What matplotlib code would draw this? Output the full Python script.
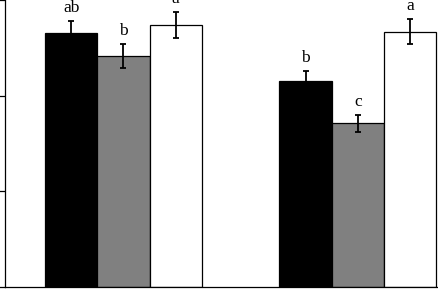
import matplotlib
matplotlib.use("Agg")
import matplotlib.pyplot as plt
import numpy as np

groups = [0, 1]
black_vals = [2.65, 2.15]
black_err = [0.135, 0.11]
gray_vals = [2.415, 1.71]
gray_err = [0.123, 0.087]
white_vals = [2.735, 2.67]
white_err = [0.137, 0.13]
black_letters = ["ab", "b"]
gray_letters = ["b", "c"]
white_letters = ["a", "a"]


def main():
    fig = plt.figure(figsize=(4.39, 2.89), dpi=100)
    ax = fig.add_axes([5 / 439, 2 / 289, 434 / 439, 287 / 289])

    x = np.array(groups, dtype=float)
    w = 0.223
    series = [
        (black_vals, black_err, black_letters, "black", -w),
        (gray_vals, gray_err, gray_letters, "#808080", 0.0),
        (white_vals, white_err, white_letters, "white", w),
    ]
    for vals, errs, letters, color, off in series:
        ax.bar(x + off, vals, width=w, color=color, edgecolor="black", linewidth=0.9)
        ax.errorbar(x + off, vals, yerr=errs, fmt="none", ecolor="black",
                    elinewidth=1.3, capsize=2.5, capthick=1.3)
        for xi, v, e, t in zip(x + off, vals, errs, letters):
            ax.text(xi, v + e + 0.135, t, ha="center", va="center",
                    family="Liberation Serif", fontsize=12.5, clip_on=False)

    ax.set_xlim(-0.505, 1.346)
    ax.set_ylim(0, 3)
    ax.set_yticks([0, 1, 2, 3])
    ax.set_yticklabels([])
    ax.set_xticks([])
    ax.spines["top"].set_visible(False)
    ax.spines["right"].set_visible(False)
    ax.spines["left"].set_linewidth(0.9)
    ax.spines["bottom"].set_linewidth(0.9)
    ax.tick_params(axis="y", direction="out", length=4, width=0.9)

    fig.savefig("out.png", dpi=100)


if __name__ == "__main__":
    main()
